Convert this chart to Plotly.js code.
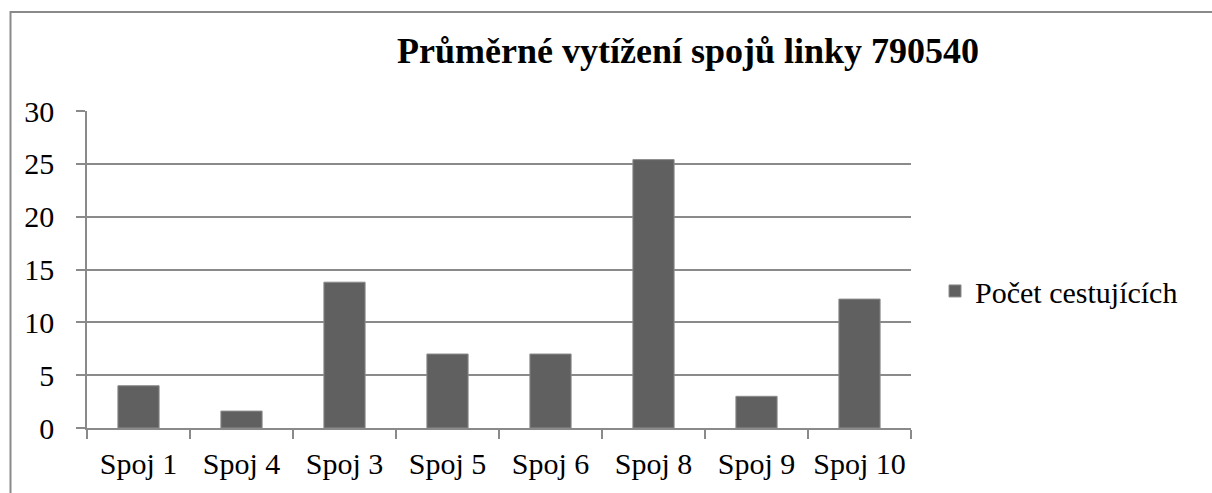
<!DOCTYPE html>
<html>
<head>
<meta charset="utf-8">
<script src="https://cdn.plot.ly/plotly-3.0.1.min.js"></script>
<style>
html,body{margin:0;padding:0;background:#fff;}
#chart{width:1212px;height:493px;}
</style>
</head>
<body>
<div id="chart"></div>
<script>
const chartTitle = "Průměrné vytížení spojů linky 790540";
const seriesName = "Počet cestujících";
const categories = ["Spoj 1", "Spoj 4", "Spoj 3", "Spoj 5", "Spoj 6", "Spoj 8", "Spoj 9", "Spoj 10"];
const values = [4, 1.6, 13.8, 7, 7, 25.4, 3, 12.2];
const yTicks = [0, 5, 10, 15, 20, 25, 30];

const FONT = "Liberation Serif, Times New Roman, serif";
const GRID = "#8a8a8a";

const trace = {
  type: "bar",
  x: categories,
  y: values,
  name: seriesName,
  showlegend: true,
  marker: {color: "#606060", line: {color: "#8c8c8c", width: 1}},
  hoverinfo: "x+y"
};

const layout = {
  width: 1212,
  height: 493,
  margin: {l: 87, r: 301, t: 111, b: 65, pad: 0},
  paper_bgcolor: "#ffffff",
  plot_bgcolor: "#ffffff",
  font: {family: FONT, color: "#000000", size: 30},
  title: {
    text: "<b>" + chartTitle + "</b>",
    font: {family: FONT, size: 36, color: "#000"},
    xref: "container", yref: "container",
    x: 688 / 1212, xanchor: "center",
    y: 1 - 50 / 493, yanchor: "middle"
  },
  bargap: 0.6,
  xaxis: {
    type: "category",
    showline: true, linecolor: GRID, linewidth: 1.5,
    ticks: "outside", tickson: "boundaries", ticklen: 9, tickcolor: GRID, tickwidth: 1.5,
    tickfont: {family: FONT, size: 30, color: "#000"},
    showgrid: false, zeroline: false,
    ticklabelstandoff: 8
  },
  yaxis: {
    range: [0, 30],
    tickvals: yTicks,
    ticktext: yTicks.map(String),
    showline: true, linecolor: GRID, linewidth: 1.5,
    ticks: "outside", ticklen: 9, tickcolor: GRID, tickwidth: 1.5,
    showgrid: true, gridcolor: GRID, gridwidth: 1.5,
    zeroline: false,
    tickfont: {family: FONT, size: 30, color: "#000"},
    ticklabelstandoff: 16
  },
  legend: {
    x: (935 - 87) / 824, xanchor: "left",
    y: (428.3 - 291) / 317.6, yanchor: "middle",
    font: {family: FONT, size: 30, color: "#000"},
    bgcolor: "rgba(0,0,0,0)"
  },
  shapes: [{
    type: "path",
    xref: "paper", yref: "paper",
    path: "M " + ((10.5 - 87) / 824) + " " + ((428.3 - 520) / 317.6) +
          " L " + ((10.5 - 87) / 824) + " " + ((428.3 - 11.5) / 317.6) +
          " L " + ((1220 - 87) / 824) + " " + ((428.3 - 11.5) / 317.6),
    line: {color: "#8a8a8a", width: 2}
  }]
};

Plotly.newPlot("chart", [trace], layout, {displayModeBar: false});
</script>
</body>
</html>
